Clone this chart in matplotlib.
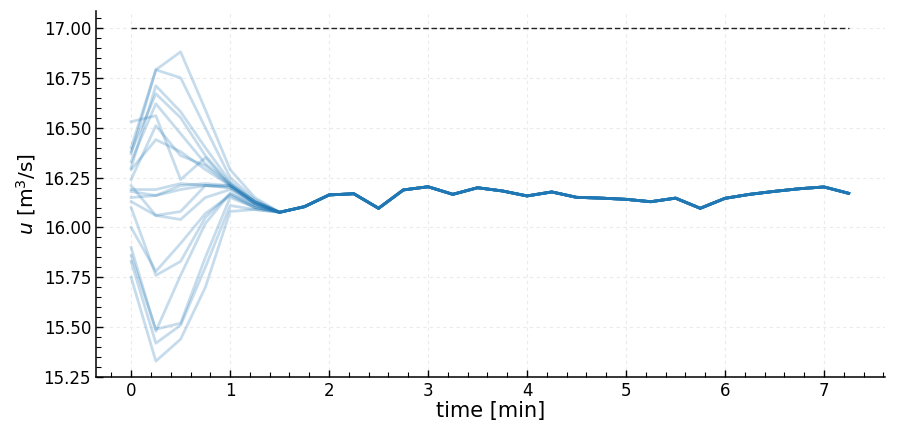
import matplotlib
matplotlib.use('Agg')
import matplotlib.pyplot as plt
from matplotlib.ticker import MultipleLocator

# tempo [min]
time_min = [0.0, 0.25, 0.5, 0.75, 1.0, 1.25, 1.5, 1.75, 2.0, 2.25, 2.5, 2.75,
            3.0, 3.25, 3.5, 3.75, 4.0, 4.25, 4.5, 4.75, 5.0, 5.25, 5.5, 5.75,
            6.0, 6.25, 6.5, 6.75, 7.0, 7.25]

# inicio de cada membro (t = 0 ... 1.25), antes de convergir
early_members = [
    [16.40, 16.79, 16.88, 16.59, 16.29, 16.15],
    [16.37, 16.79, 16.75, 16.50, 16.25, 16.14],
    [16.30, 16.71, 16.58, 16.40, 16.23, 16.13],
    [16.38, 16.67, 16.55, 16.36, 16.22, 16.13],
    [16.53, 16.56, 16.24, 16.35, 16.21, 16.12],
    [16.24, 16.51, 16.36, 16.31, 16.21, 16.12],
    [16.29, 16.44, 16.38, 16.29, 16.21, 16.12],
    [16.33, 16.62, 16.47, 16.32, 16.22, 16.13],
    [16.19, 16.19, 16.22, 16.21, 16.20, 16.12],
    [16.18, 16.16, 16.21, 16.22, 16.21, 16.13],
    [16.15, 16.16, 16.19, 16.21, 16.21, 16.13],
    [16.21, 16.06, 16.08, 16.21, 16.20, 16.12],
    [16.13, 16.06, 16.04, 16.15, 16.19, 16.11],
    [16.10, 15.76, 15.83, 16.05, 16.17, 16.11],
    [16.00, 15.78, 15.92, 16.07, 16.16, 16.10],
    [15.90, 15.48, 15.76, 16.02, 16.17, 16.10],
    [15.86, 15.49, 15.52, 15.85, 16.15, 16.10],
    [15.83, 15.42, 15.51, 15.80, 16.11, 16.09],
    [15.75, 15.33, 15.44, 15.70, 16.08, 16.09],
]

# trecho comum (t = 1.5 ... 7.25)
common_tail = [16.076, 16.104, 16.163, 16.169, 16.096, 16.188, 16.204, 16.166,
               16.199, 16.183, 16.158, 16.178, 16.151, 16.147, 16.141, 16.129,
               16.147, 16.096, 16.146, 16.166, 16.181, 16.194, 16.203, 16.171]

target_u = 17.0

fig = plt.figure(figsize=(8.97, 4.38), dpi=100)
ax = fig.add_axes([0.107, 0.139, 0.880, 0.836])

for early in early_members:
    ax.plot(time_min, early + common_tail, color='#1f77b4', alpha=0.25, lw=2.0)

ax.plot(time_min, [target_u] * len(time_min), color='#222222', lw=1.0,
        linestyle=(0, (4, 2)))

ax.set_xlim(-0.355, 7.62)
ax.set_ylim(15.25, 17.085)
ax.xaxis.set_major_locator(MultipleLocator(1))
ax.xaxis.set_minor_locator(MultipleLocator(0.2))
ax.yaxis.set_major_locator(MultipleLocator(0.25))
ax.yaxis.set_minor_locator(MultipleLocator(0.05))
ax.yaxis.set_major_formatter(matplotlib.ticker.FormatStrFormatter('%.2f'))

ax.spines['top'].set_visible(False)
ax.spines['right'].set_visible(False)
ax.spines['left'].set_linewidth(1.1)
ax.spines['bottom'].set_linewidth(1.1)
ax.tick_params(which='major', direction='in', length=5, width=1, labelsize=12)
ax.tick_params(which='minor', direction='in', length=3.5, width=0.8)
ax.grid(which='major', color='#ebebeb', lw=0.8, linestyle=(0, (3, 3)))

ax.set_xlabel('time [min]', fontsize=15, labelpad=1)
ax.set_ylabel(r'$u$ [m$^3$/s]', fontsize=14.5, labelpad=4)

fig.savefig('out.png', dpi=100)
